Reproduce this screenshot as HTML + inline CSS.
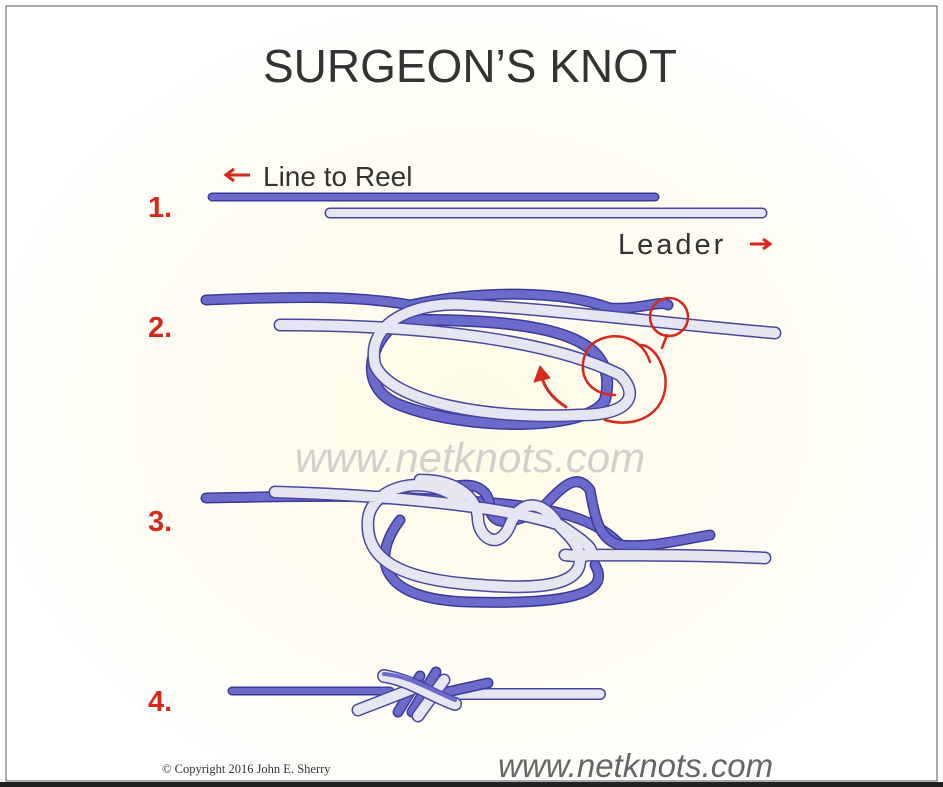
<!DOCTYPE html>
<html><head><meta charset="utf-8"><style>
html,body{margin:0;padding:0;background:#fff}
svg{display:block}
</style></head><body>
<svg width="943" height="787" viewBox="0 0 943 787" xmlns="http://www.w3.org/2000/svg" font-family="Liberation Sans, sans-serif">
<defs>
<radialGradient id="bg" cx="0.5" cy="0.52" r="0.55">
<stop offset="0" stop-color="#fffbe8"/><stop offset="0.7" stop-color="#fffdf4"/><stop offset="1" stop-color="#ffffff"/>
</radialGradient>
</defs>
<rect x="0" y="0" width="943" height="787" fill="#fff"/>
<rect x="6" y="6" width="931" height="775" fill="url(#bg)" stroke="#555" stroke-width="1"/>
<text x="470" y="82" font-size="46" text-anchor="middle" fill="#333">SURGEON’S KNOT</text>

<g font-weight="bold" fill="#d42a1e" font-size="29">
<text x="148" y="217">1.</text><text x="148" y="337">2.</text><text x="148" y="531">3.</text><text x="148" y="711">4.</text>
</g>

<text x="263" y="186" font-size="28" fill="#333">Line to Reel</text>
<path d="M250 175 H228 M234 169 L226 175 L234 181" stroke="#d42a1e" stroke-width="3" fill="none"/>
<text x="618" y="254" font-size="29" fill="#333" letter-spacing="3">Leader</text>
<path d="M750 244 H768 M763 239 L770 244 L763 249" stroke="#d42a1e" stroke-width="3" fill="none"/>

<g fill="none" stroke-linecap="round" stroke-linejoin="round">
<path d="M212 197 H655" stroke="#3a3a9a" stroke-width="9"/><path d="M212 197 H655" stroke="#6b6bcc" stroke-width="6"/>
<path d="M330 213 H762" stroke="#4848a0" stroke-width="11"/><path d="M330 213 H762" stroke="#e6e6f2" stroke-width="8"/>

<path d="M206 300 C300 296 360 296 410 305 C480 290 560 290 610 308 C640 310 660 300 668 305" stroke="#3a3a9a" stroke-width="11"/>
<path d="M206 300 C300 296 360 296 410 305 C480 290 560 290 610 308 C640 310 660 300 668 305" stroke="#6b6bcc" stroke-width="8"/>
<path d="M400 320 C560 318 620 340 605 400 C590 430 470 432 400 405 C360 390 365 345 400 320" stroke="#3a3a9a" stroke-width="12"/>
<path d="M400 320 C560 318 620 340 605 400 C590 430 470 432 400 405 C360 390 365 345 400 320" stroke="#6b6bcc" stroke-width="9"/>
<path d="M280 325 C450 325 560 345 620 375 C640 395 630 415 580 415 C480 420 390 400 375 365 C365 320 420 300 470 305 C560 310 680 325 775 333" stroke="#4848a0" stroke-width="13"/>
<path d="M280 325 C450 325 560 345 620 375 C640 395 630 415 580 415 C480 420 390 400 375 365 C365 320 420 300 470 305 C560 310 680 325 775 333" stroke="#e6e6f2" stroke-width="10"/>
<circle cx="669" cy="317" r="19" stroke="#d42a1e" stroke-width="2.5"/>
<path d="M667 335 L662 348" stroke="#d42a1e" stroke-width="2.5"/>
<path d="M650 362 C640 330 600 330 587 350 C575 375 590 395 615 395 M605 420 C640 430 670 410 665 375 C660 355 650 345 640 345" stroke="#d42a1e" stroke-width="2.5"/>
<path d="M566 407 C552 398 545 388 542 378" stroke="#d42a1e" stroke-width="3"/>
<path d="M534 382 L540 366 L550 378 Z" fill="#d42a1e" stroke="#d42a1e"/>

<text x="470" y="472" font-size="42" font-style="italic" fill="#d2d0ca" text-anchor="middle" stroke="none">www.netknots.com</text>

<path d="M206 498 C300 496 380 495 450 500 C560 505 600 520 625 550" stroke="#3a3a9a" stroke-width="11"/>
<path d="M206 498 C300 496 380 495 450 500 C560 505 600 520 625 550" stroke="#6b6bcc" stroke-width="8"/>
<path d="M400 520 C370 560 380 600 470 602 C580 605 610 590 595 565 M440 490 C470 480 490 485 490 510 C495 530 520 520 540 510 C560 490 575 470 590 490 C595 520 600 540 620 545 C650 548 680 540 710 535" stroke="#3a3a9a" stroke-width="11"/>
<path d="M400 520 C370 560 380 600 470 602 C580 605 610 590 595 565 M440 490 C470 480 490 485 490 510 C495 530 520 520 540 510 C560 490 575 470 590 490 C595 520 600 540 620 545 C650 548 680 540 710 535" stroke="#6b6bcc" stroke-width="8"/>
<path d="M275 492 C380 495 500 505 560 525 C590 545 610 560 565 555 M460 500 C420 470 370 490 368 520 C365 560 400 580 480 585 C540 590 580 585 580 560 C580 540 560 530 555 520 C540 500 520 500 510 525 C500 550 480 540 478 520 C478 500 460 480 420 480 M575 555 C650 555 700 555 765 558" stroke="#4848a0" stroke-width="13"/>
<path d="M275 492 C380 495 500 505 560 525 C590 545 610 560 565 555 M460 500 C420 470 370 490 368 520 C365 560 400 580 480 585 C540 590 580 585 580 560 C580 540 560 530 555 520 C540 500 520 500 510 525 C500 550 480 540 478 520 C478 500 460 480 420 480 M575 555 C650 555 700 555 765 558" stroke="#e6e6f2" stroke-width="10"/>

<path d="M232 691 H390" stroke="#3a3a9a" stroke-width="9"/><path d="M232 691 H390" stroke="#6b6bcc" stroke-width="6"/>
<path d="M450 694 H600" stroke="#4848a0" stroke-width="12"/><path d="M450 694 H600" stroke="#e6e6f2" stroke-width="9"/>
<path d="M412 712 L436 672 M398 712 L420 676 M438 694 L488 683" stroke="#3a3a9a" stroke-width="11"/>
<path d="M412 712 L436 672 M398 712 L420 676 M438 694 L488 683" stroke="#6b6bcc" stroke-width="8"/>
<path d="M358 710 L420 686 M418 716 L444 680" stroke="#4848a0" stroke-width="13"/>
<path d="M358 710 L420 686 M418 716 L444 680" stroke="#e6e6f2" stroke-width="10"/>
<path d="M384 676 C410 680 430 695 455 704" stroke="#4848a0" stroke-width="14"/>
<path d="M384 676 C410 680 430 695 455 704" stroke="#e6e6f2" stroke-width="11"/>
<path d="M384 674 C410 676 430 690 455 700" stroke="#6b6bcc" stroke-width="4"/>
</g>

<text x="162" y="773" font-size="12.5" fill="#333" font-family="Liberation Serif, serif">© Copyright  2016  John E. Sherry</text>
<text x="498" y="777" font-size="33" font-style="italic" fill="#666">www.netknots.com</text>
<rect x="0" y="782" width="943" height="5" fill="#222"/>
</svg>
</body></html>
